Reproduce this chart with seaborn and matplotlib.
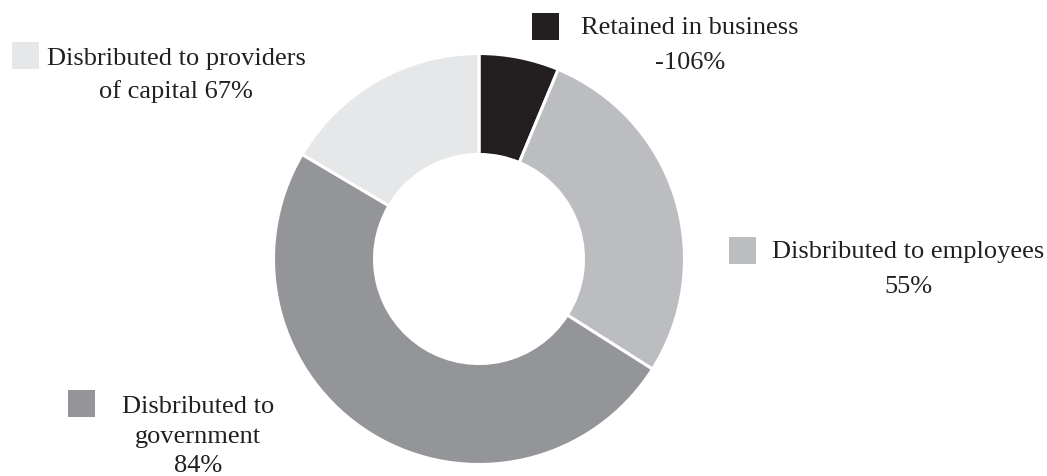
import matplotlib.pyplot as plt
import seaborn as sns
from matplotlib.patches import Rectangle

# data
categories = ["Retained in business", "Disbributed to employees",
              "Disbributed to government", "Disbributed to providers of capital"]
shares = [6.3, 27.7, 49.5, 16.5]
label_lines = [
    ["Retained in business", "-106%"],
    ["Disbributed to employees", "55%"],
    ["Disbributed to", "government", "84%"],
    ["Disbributed to providers", "of capital 67%"],
]
colors = ["#231f20", "#bcbdc0", "#939598", "#e6e7e8"]

# layout (pixels from top-left)
W, H = 1047, 476
center = (479, 259)
radius = 205.5
ring = 101
text_pos = [  # x-center, baselines for each line
    (690, [34, 69]),
    (908, [258, 293]),
    (198, [413, 443, 472]),
    (176, [65, 98]),
]
square_pos = [(532, 13), (729, 237), (68, 390), (12, 42)]
square_size = 27

sns.set_theme(style="white")
plt.rcParams["font.family"] = ["Liberation Serif", "DejaVu Serif"]

fig = plt.figure(figsize=(W / 100, H / 100), dpi=100)
ax = fig.add_axes([0, 0, 1, 1])

ax.pie(shares, colors=colors, startangle=90, counterclock=False,
       center=(center[0], H - center[1]), radius=radius,
       wedgeprops=dict(width=ring, edgecolor="white", linewidth=2.2))
ax.set_xlim(0, W)
ax.set_ylim(0, H)
ax.set_aspect("equal")
ax.axis("off")

for lines, (cx, bases), (sx, sy), c in zip(label_lines, text_pos, square_pos, colors):
    ax.add_patch(Rectangle((sx, H - sy - square_size), square_size, square_size,
                           facecolor=c, edgecolor="none"))
    for line, b in zip(lines, bases):
        ax.text(cx, H - b, line, ha="center", va="baseline",
                fontsize=19, color="#231f20")

fig.savefig("out.png", dpi=100)
